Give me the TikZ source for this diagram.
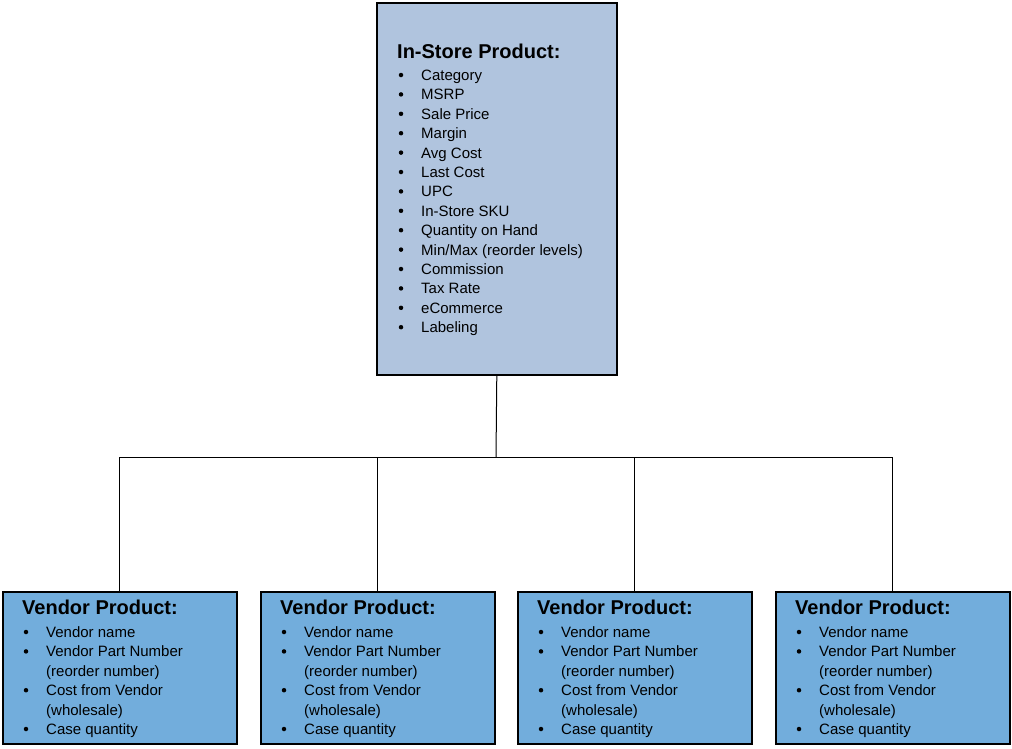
\documentclass[tikz,border=0pt]{standalone}
\usepackage{fontspec}
\setmainfont{Liberation Sans}
\definecolor{topfill}{HTML}{B0C4DE}
\definecolor{vfill}{HTML}{72ADDC}
\begin{document}
\begin{tikzpicture}[x=1pt,y=-1pt,
  box/.style={draw=black,line width=1.6pt,anchor=north west,inner sep=0pt},
  ttl/.style={anchor=base west,font=\fontsize{20}{22}\selectfont\bfseries,inner sep=0pt},
  itm/.style={anchor=base west,font=\fontsize{15}{17}\selectfont,inner sep=0pt},
  bul/.style={circle,fill=black,inner sep=0pt,minimum size=4.5pt},
  conn/.style={draw=black,line width=1pt}]
\useasboundingbox (0,0) rectangle (1012,748);
\node[box,fill=topfill,minimum width=240,minimum height=372] (top) at (376,2) {};
\node[ttl] (tt) at (397,58) {In-Store Product:};
\foreach \t [count=\i from 0] in {Category,MSRP,Sale Price,Margin,Avg Cost,Last Cost,UPC,In-Store SKU,Quantity on Hand,Min/Max (reorder levels),Commission,Tax Rate,eCommerce,Labeling}{
  \node[bul] (tb\i) at (401,75+19.4*\i) {};
  \node[itm] (ti\i) at (421,80.5+19.4*\i) {\t};
}
\foreach \x [count=\k] in {2,260,517,775}{
  \node[box,fill=vfill,minimum width=234,minimum height=152] (v\k) at (\x,591) {};
  \node[ttl] (vt\k) at (\x+20,614.5) {Vendor Product:};
  \foreach \t/\b [count=\i from 0] in {Vendor name/1,Vendor Part Number/1,(reorder number)/0,Cost from Vendor/1,(wholesale)/0,Case quantity/1}{
    \node[itm] (vi\k-\i) at (\x+44,637.5+19.4*\i) {\t};
    \ifnum\b=1 \node[bul] at (\x+24,632+19.4*\i) {};\fi
  }
}
\coordinate (j) at (496,457);
\draw[conn] (top.south) -- (j);
\foreach \k in {1,...,4}{\draw[conn] (j) -| (v\k.north);}
\end{tikzpicture}
\end{document}
